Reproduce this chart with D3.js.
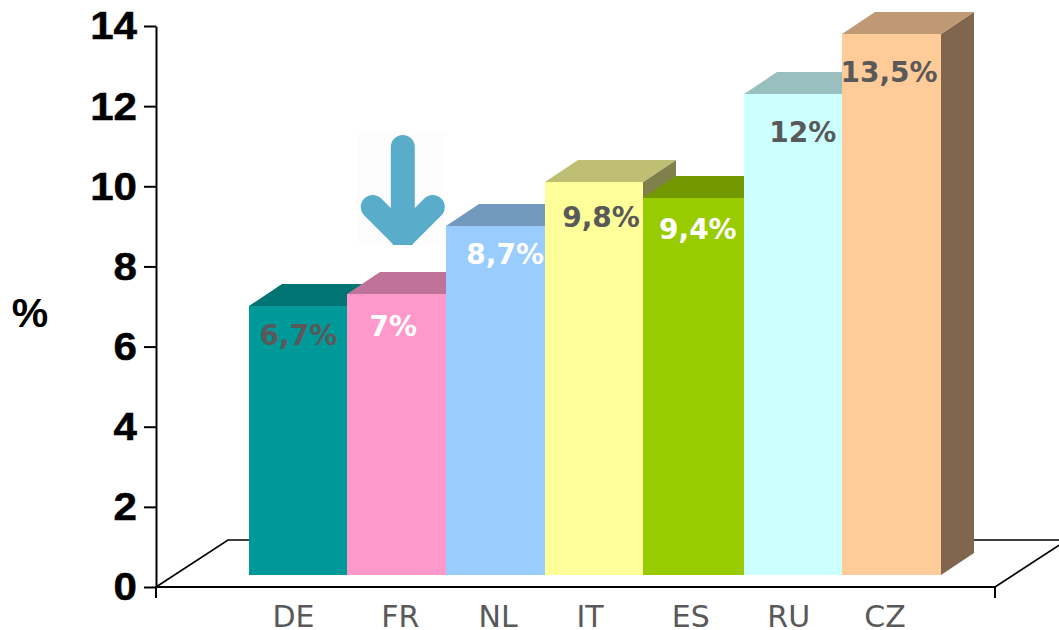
<!DOCTYPE html>
<html>
<head>
<meta charset="utf-8">
<script src="https://cdn.jsdelivr.net/npm/d3@7"></script>
<style>
  html, body { margin: 0; padding: 0; background: #fff; overflow: hidden; }
</style>
</head>
<body>
<div id="chart"></div>
<script>
// Chart values
const categories = ['DE', 'FR', 'NL', 'IT', 'ES', 'RU', 'CZ'];
const values = [6.7, 7, 8.7, 9.8, 9.4, 12, 13.5];
const valueLabels = ['6,7%', '7%', '8,7%', '9,8%', '9,4%', '12%', '13,5%'];
const barColors = ['#009999', '#ff99cc', '#99ccff', '#ffff99', '#99cc00', '#ccffff', '#ffcc99'];
const labelColors = ['#595959', '#ffffff', '#ffffff', '#595959', '#ffffff', '#595959', '#595959'];
const yTicks = [0, 2, 4, 6, 8, 10, 12, 14];

// Hand placement of the labels, they are not centred on the bars in the original
const labelDx = [0, -4, 9, 6, 4, 10, -2.5];
const labelDy = [28, 31, 28, 35, 31, 38, 38];
const catDx = [-5, 3, 2, -5, -3, -4, -6.5];
const barDx = [0, -1, -1, -1, -1, 1, 0];

const width = 1059, height = 630;
const floorDepth = { x: 72, y: -47 };
const barDepth = { x: 33, y: -22 };
const barLift = 12; // bars stand a little behind the front edge of the floor

const svg = d3.select('#chart').append('svg')
  .attr('width', width).attr('height', height)
  .style('display', 'block');

const y = d3.scaleLinear().domain([0, 14]).range([587, 26]);
const floorX = d3.scaleLinear().domain([0, 1]).range([156, 995]);
const x = d3.scaleBand().domain(categories).range([249, 941]);

// Floor
const floorLeft = floorX(0), floorRight = floorX(1), floorY = y(0);
svg.append('path')
  .attr('fill', 'none').attr('stroke', '#000').attr('stroke-width', 1.6)
  .attr('d', `M${floorLeft},${floorY} L${floorLeft + floorDepth.x},${floorY + floorDepth.y}`
    + ` L${floorRight + floorDepth.x},${floorY + floorDepth.y} L${floorRight},${floorY}`);

// Bars, drawn left to right so each one hides the side of the previous
const base = y(0) - barLift;
const barLeft = (i) => Math.round(x(categories[i]) + barDx[i]);
categories.forEach((cat, i) => {
  const x0 = barLeft(i);
  const x1 = i < categories.length - 1 ? barLeft(i + 1) : x.range()[1];
  const top = Math.round(y(values[i]) - barLift - 0.5);
  const color = d3.color(barColors[i]);
  const shade = (k) => d3.rgb(color.r * k, color.g * k, color.b * k).formatHex();
  const g = svg.append('g').attr('class', 'bar');

  g.append('path').attr('fill', shade(0.5))
    .attr('d', `M${x1},${top} L${x1 + barDepth.x},${top + barDepth.y}`
      + ` L${x1 + barDepth.x},${base + barDepth.y} L${x1},${base} Z`);
  g.append('path').attr('fill', shade(0.75))
    .attr('d', `M${x0},${top} L${x0 + barDepth.x},${top + barDepth.y}`
      + ` L${x1 + barDepth.x},${top + barDepth.y} L${x1},${top} Z`);
  g.append('rect').attr('fill', barColors[i])
    .attr('x', x0).attr('y', top)
    .attr('width', x1 - x0).attr('height', base - top);
});

// Value labels go on top of all bars
categories.forEach((cat, i) => {
  svg.append('text')
    .attr('x', x(cat) + x.bandwidth() / 2 + labelDx[i])
    .attr('y', y(values[i]) - barLift + labelDy[i])
    .attr('dy', '0.36em')
    .attr('text-anchor', 'middle')
    .style('font-family', '"DejaVu Sans", sans-serif')
    .style('font-weight', '700')
    .style('font-size', '28px')
    .style('fill', labelColors[i])
    .text(valueLabels[i]);
});

// Y axis, the digits are wider than plain Arial bold in the original
const stretch = 1.08;
const yAxis = svg.append('g')
  .attr('transform', `translate(${floorLeft},0)`)
  .call(d3.axisLeft(y).tickValues(yTicks).tickSize(12).tickPadding(6).tickSizeOuter(0));
yAxis.select('.domain').attr('stroke', '#000').attr('stroke-width', 2);
yAxis.selectAll('.tick line').attr('stroke', '#000').attr('stroke-width', 2);
yAxis.selectAll('.tick text')
  .attr('fill', '#000')
  .attr('x', -19 / stretch)
  .attr('y', 0.5)
  .attr('transform', `scale(${stretch},1)`)
  .attr('stroke', '#000').attr('stroke-width', 0.5)
  .style('font-family', '"Liberation Sans", Arial, sans-serif')
  .style('font-weight', '700')
  .style('font-size', '39px');

// X axis: line with an end tick each side, labels under the bars
svg.append('path')
  .attr('fill', 'none').attr('stroke', '#000').attr('stroke-width', 2)
  .attr('d', `M${floorLeft},${floorY + 11} V${floorY} H${floorRight} V${floorY + 11}`);

svg.selectAll('text.cat').data(categories).join('text')
  .attr('class', 'cat')
  .attr('x', (d, i) => x(d) + x.bandwidth() / 2 + catDx[i])
  .attr('y', 627)
  .attr('text-anchor', 'middle')
  .style('font-family', '"DejaVu Sans", sans-serif')
  .style('font-size', '30px')
  .style('fill', '#595959')
  .text(d => d);

// Axis title
svg.append('text')
  .attr('x', 30).attr('y', 327)
  .attr('text-anchor', 'middle')
  .style('font-family', '"Liberation Sans", Arial, sans-serif')
  .style('font-weight', '700')
  .style('font-size', '41px')
  .style('fill', '#000')
  .text('%');

// Down arrow above FR
const arrowX = x('FR') + x.bandwidth() / 2 + 5.5;
const arrow = svg.append('g');
arrow.append('rect').attr('fill', '#fdfdfd')
  .attr('x', arrowX - 45).attr('y', 132).attr('width', 87).attr('height', 113);
arrow.append('clipPath').attr('id', 'arrow-clip')
  .append('rect').attr('x', arrowX - 60).attr('y', 120).attr('width', 120).attr('height', 125);
arrow.append('path')
  .attr('clip-path', 'url(#arrow-clip)')
  .attr('fill', 'none').attr('stroke', '#5aadca').attr('stroke-width', 24)
  .attr('stroke-linecap', 'round').attr('stroke-linejoin', 'miter')
  .attr('d', `M${arrowX},147 V238 M${arrowX - 30},207 L${arrowX},237 L${arrowX + 30},207`);
</script>
</body>
</html>
